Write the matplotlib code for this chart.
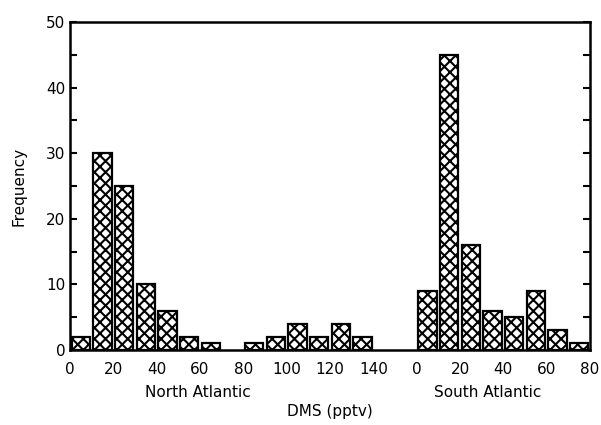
import matplotlib
matplotlib.use('Agg')
import matplotlib.pyplot as plt
import numpy as np

plt.rcParams['font.family'] = ['DejaVu Sans']
plt.rcParams['hatch.linewidth'] = 1.5

# DMS bins (pptv), 10 pptv wide
north_bins = [0, 10, 20, 30, 40, 50, 60, 70, 80, 90, 100, 110, 120, 130]
north_freq = [2, 30, 25, 10, 6, 2, 1, 0, 1, 2, 4, 2, 4, 2]
south_bins = [0, 10, 20, 30, 40, 50, 60, 70]
south_freq = [9, 45, 16, 6, 5, 9, 3, 1]

north_ticks = [0, 20, 40, 60, 80, 100, 120, 140]
south_ticks = [0, 20, 40, 60, 80]
south_offset = 160  # south atlantic panel starts here on the shared axis

fig = plt.figure(figsize=(6.01, 4.25), dpi=100)
ax = fig.add_axes([70 / 601, 75 / 425, 520 / 601, 328 / 425])

nx = np.array(north_bins) + 5
sx = np.array(south_bins) + 5 + south_offset
for x, f in [(nx, north_freq), (sx, south_freq)]:
    keep = np.array(f) > 0
    ax.bar(x[keep], np.array(f)[keep], width=8.4, color='white',
           edgecolor='black', hatch='xxx', linewidth=1.6)

ax.set_xlim(0, 240)
ax.set_ylim(0, 50)

ticks = north_ticks + [t + south_offset for t in south_ticks]
labels = [str(t) for t in north_ticks] + [str(t) for t in south_ticks]
ax.set_xticks(ticks)
ax.set_xticklabels(labels)
ax.tick_params(axis='x', length=0, pad=9, labelsize=11)

ax.set_yticks(np.arange(0, 51, 10))
ax.set_yticks(np.arange(5, 50, 10), minor=True)
ax.tick_params(axis='y', which='both', direction='in', left=True, right=True,
               length=5, width=1.5, labelsize=11)

for s in ax.spines.values():
    s.set_linewidth(1.8)

ax.text(59, -6.55, 'North Atlantic', ha='center', va='center', fontsize=11)
ax.text(193, -6.55, 'South Atlantic', ha='center', va='center', fontsize=11)
ax.text(120, -9.3, 'DMS (pptv)', ha='center', va='center', fontsize=11)
ax.set_ylabel('Frequency', fontsize=11, labelpad=14)

fig.savefig('out.png', dpi=100)
